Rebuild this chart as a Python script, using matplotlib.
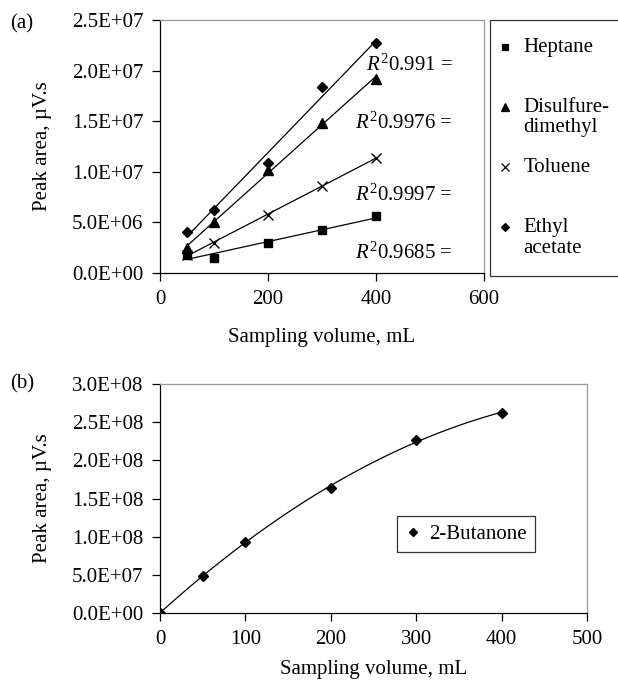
import numpy as np
import matplotlib.pyplot as plt
from matplotlib.lines import Line2D
from matplotlib.ticker import FuncFormatter

plt.rcParams['font.family'] = ['Liberation Serif', 'DejaVu Serif']
plt.rcParams['mathtext.fontset'] = 'custom'
plt.rcParams['mathtext.rm'] = 'Liberation Serif'
plt.rcParams['mathtext.it'] = 'Liberation Serif:italic'
FS = 15

# (a) data
vol_a = [50, 100, 200, 300, 400]
heptane = [1.8e6, 1.5e6, 3.0e6, 4.2e6, 5.6e6]
disulf = [2.5e6, 5.0e6, 10.2e6, 14.8e6, 19.2e6]
toluene = [1.8e6, 3.0e6, 5.7e6, 8.6e6, 11.4e6]
ethyl = [4.05e6, 6.2e6, 10.9e6, 18.4e6, 22.7e6]
r2_labels = ['0.991', '0.9976', '0.9997', '0.9685']
r2_ypos = [0.822, 0.593, 0.308, 0.079]

# (b) data
vol_b = [0, 50, 100, 200, 300, 400]
butanone = [0, 4.9e7, 9.3e7, 1.64e8, 2.27e8, 2.62e8]

def sci(v, pos):
    return f"{v:.1E}"

def style(ax):
    ax.spines['top'].set_color('#999999')
    ax.spines['right'].set_color('#999999')
    for s in ax.spines.values():
        s.set_linewidth(0.9)
    ax.spines['left'].set_color('black')
    ax.spines['bottom'].set_color('black')
    ax.tick_params(direction='out', length=6, width=0.9, labelsize=FS,
                   pad=6, top=False, right=False)
    ax.yaxis.set_major_formatter(FuncFormatter(sci))

fig = plt.figure(figsize=(6.18, 6.8), dpi=100)

# ---- panel a
ax = fig.add_axes([160/618, 1-273/680, 324/618, 253/680])
series = [(heptane, 's', 6, 4.5, 'Heptane\n '),
          (disulf, '^', 7.5, 6, 'Disulfure-\ndimethyl'),
          (toluene, 'x', 7.5, 5.5, 'Toluene\n '),
          (ethyl, 'D', 5.5, 4.5, 'Ethyl\nacetate')]
handles = []
x = np.array(vol_a)
for ys, m, ms, lms, lab in series:
    k, b = np.polyfit(x, ys, 1)
    ax.plot([x.min(), x.max()], [k*x.min()+b, k*x.max()+b], color='black', lw=0.9)
    ax.plot(x, ys, linestyle='none', marker=m, ms=ms, color='black', mew=1.0)
    handles.append(Line2D([], [], linestyle='none', marker=m, ms=lms,
                          color='black', mew=0.9, label=lab))
for lab, yp in zip(r2_labels, r2_ypos):
    ax.text(0.904, yp, r'$R^2$' + lab + ' =', transform=ax.transAxes,
            ha='right', va='center', fontsize=FS)
ax.set_xlim(0, 600)
ax.set_ylim(0, 2.5e7)
ax.set_xticks([0, 200, 400, 600])
ax.set_yticks(np.arange(0, 2.51e7, 5e6))
style(ax)
ax.set_xlabel('Sampling volume, mL', fontsize=FS, labelpad=14)
ax.set_ylabel('Peak area, µV.s', fontsize=FS, labelpad=14)
fig.text(10/618, 1-24/680, '(a)', fontsize=FS, va='center')

leg = fig.legend(handles=handles, loc='upper left',
                 bbox_to_anchor=(490/618, 1-20/680), fontsize=FS,
                 frameon=True, fancybox=False, edgecolor='black',
                 handlelength=0.4, handletextpad=0.34, labelspacing=1.0,
                 borderpad=0.85, borderaxespad=0)
leg.get_frame().set_linewidth(0.9)
for t in leg.get_texts():
    t.set_linespacing(1.1)
for h in leg.legend_handles:
    h.set_ydata(np.asarray(h.get_ydata()) + 0.5*FS)
    h.set_xdata(np.asarray(h.get_xdata()) - 4.6)

# ---- panel b
ax2 = fig.add_axes([160/618, 1-613/680, 427/618, 229/680])
xb = np.array(vol_b)
c = np.polyfit(xb, butanone, 2)
xx = np.linspace(0, 400, 200)
ax2.plot(xx, np.polyval(c, xx), color='black', lw=0.9)
ax2.plot(xb, butanone, linestyle='none', marker='D', ms=5.5, color='black',
         label='2-Butanone')
ax2.set_xlim(0, 500)
ax2.set_ylim(0, 3e8)
ax2.set_xticks(np.arange(0, 501, 100))
ax2.set_yticks(np.arange(0, 3.01e8, 5e7))
style(ax2)
ax2.set_xlabel('Sampling volume, mL', fontsize=FS, labelpad=8)
ax2.set_ylabel('Peak area, µV.s', fontsize=FS, labelpad=14)
fig.text(10/618, 1-384/680, '(b)', fontsize=FS, va='center')
leg2 = ax2.legend(loc='upper left', bbox_to_anchor=(0.555, 0.424), fontsize=FS,
                  frameon=True, fancybox=False, edgecolor='black',
                  handlelength=0.7, handletextpad=0.45, borderaxespad=0,
                  borderpad=0.4)
leg2.get_frame().set_linewidth(0.9)
leg2.legend_handles[0].set_markersize(4.5)

fig.savefig('out.png', dpi=100)
